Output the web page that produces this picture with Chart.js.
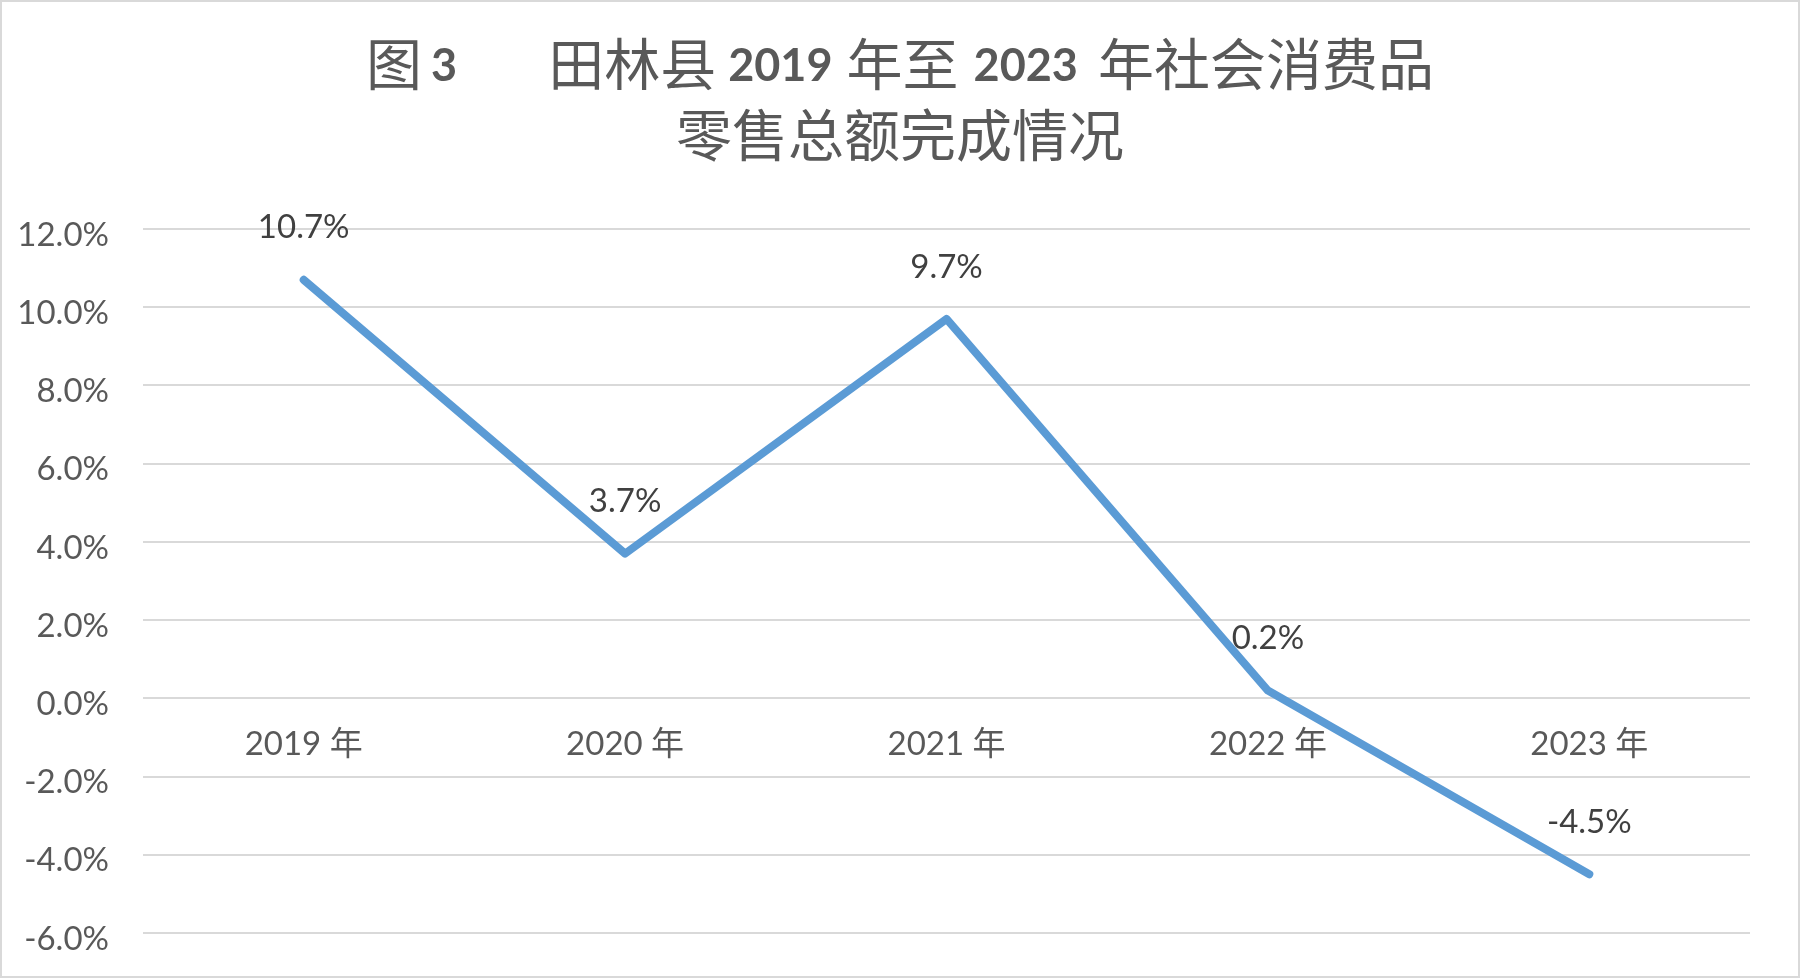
<!DOCTYPE html>
<html>
<head>
<meta charset="utf-8">
<script src="https://cdn.jsdelivr.net/npm/chart.js@4.4.1/dist/chart.umd.min.js"></script>
<style>
  html, body { margin: 0; padding: 0; background: #ffffff; }
  #wrap { width: 1800px; height: 978px; }
</style>
</head>
<body>
<div id="wrap"><canvas id="retailChart" width="1800" height="978"></canvas></div>
<script>
// chart data
const years = ["2019 年", "2020 年", "2021 年", "2022 年", "2023 年"];
const growthRates = [10.7, 3.7, 9.7, 0.2, -4.5];
const yMin = -6;
const yMax = 12;
const yStep = 2;
// title pieces: [text, bold]
const titleLine1 = [["图", false], ["3", true], ["田林县", false], ["2019", true], ["年至", false], ["2023", true], ["年社会消费品", false]];
const titleLine2 = "零售总额完成情况";

const textGray = "#595959";
const cjk = '"Noto Sans CJK SC"';

// draw mixed-weight title + outer frame
const titlePlugin = {
    id: "excelTitle",
    beforeDraw(chart) {
        const ctx = chart.ctx;
        ctx.save();
        ctx.fillStyle = "#ffffff";
        ctx.fillRect(0, 0, chart.width, chart.height);
        ctx.strokeStyle = "#d9d9d9";
        ctx.lineWidth = 2;
        ctx.strokeRect(1, 1, chart.width - 2, chart.height - 2);
        ctx.restore();
    },
    afterDraw(chart) {
        const ctx = chart.ctx;
        const cx = chart.width / 2;
        const normalFont = "56px " + cjk;
        const boldFont = "bold 45px Lato, " + cjk;
        const gaps = [9, 91, 12, 14, 15, 20]; // space after each piece
        ctx.save();
        ctx.fillStyle = textGray;
        ctx.textBaseline = "middle";
        ctx.textAlign = "left";
        let total = 0;
        titleLine1.forEach(([t, b], i) => {
            ctx.font = b ? boldFont : normalFont;
            total += ctx.measureText(t).width + (gaps[i] || 0);
        });
        let x = cx - total / 2;
        titleLine1.forEach(([t, b], i) => {
            ctx.font = b ? boldFont : normalFont;
            ctx.fillText(t, x, b ? 66 : 64);
            x += ctx.measureText(t).width + (gaps[i] || 0);
        });
        ctx.font = normalFont;
        ctx.textAlign = "center";
        ctx.fillText(titleLine2, cx, 135);
        ctx.restore();
    }
};

// data labels above each point
const pointLabels = {
    id: "pointLabels",
    afterDatasetsDraw(chart) {
        const ctx = chart.ctx;
        const meta = chart.getDatasetMeta(0);
        ctx.save();
        ctx.font = "33px Lato, " + cjk;
        ctx.fillStyle = "#404040";
        ctx.textAlign = "center";
        ctx.textBaseline = "middle";
        meta.data.forEach((pt, i) => {
            ctx.fillText(growthRates[i].toFixed(1) + "%", pt.x, pt.y - 52);
        });
        ctx.restore();
    }
};

const ctx = document.getElementById("retailChart").getContext("2d");
window.retailChartInstance = new Chart(ctx, {
    type: "line",
    data: {
        labels: years,
        datasets: [{
            label: "增速",
            data: growthRates,
            borderColor: "#5b9bd5",
            backgroundColor: "#5b9bd5",
            borderWidth: 8,
            borderCapStyle: "round",
            borderJoinStyle: "round",
            pointRadius: 0,
            tension: 0,
            fill: false
        }]
    },
    options: {
        responsive: false,
        devicePixelRatio: 1,
        animation: false,
        layout: {
            padding: { top: 229, right: 50, bottom: 45, left: 0 }
        },
        plugins: {
            legend: { display: false },
            title: { display: false },
            tooltip: { enabled: false }
        },
        scales: {
            x: {
                type: "category",
                offset: true,
                position: { y: 0 },
                afterFit(scale) {
                    scale.height = 0;
                    scale.paddingLeft = 0;
                    scale.paddingRight = 0;
                    scale.paddingTop = 0;
                    scale.paddingBottom = 0;
                },
                grid: { display: false, drawTicks: false },
                border: { display: false },
                ticks: {
                    color: textGray,
                    font: { family: "Lato, " + cjk, size: 33 },
                    padding: 26,
                    maxRotation: 0,
                    autoSkip: false
                }
            },
            y: {
                min: yMin,
                max: yMax,
                afterFit(scale) {
                    scale.width = 143;
                    scale.paddingTop = 0;
                    scale.paddingBottom = 0;
                },
                grid: { color: "#d9d9d9", lineWidth: 2, drawTicks: false },
                border: { display: false },
                ticks: {
                    stepSize: yStep,
                    color: textGray,
                    padding: 34,
                    labelOffset: 6,
                    font: { family: "Lato, " + cjk, size: 33 },
                    callback: (v) => v.toFixed(1) + "%"
                }
            }
        }
    },
    plugins: [titlePlugin, pointLabels]
});
</script>
</body>
</html>
